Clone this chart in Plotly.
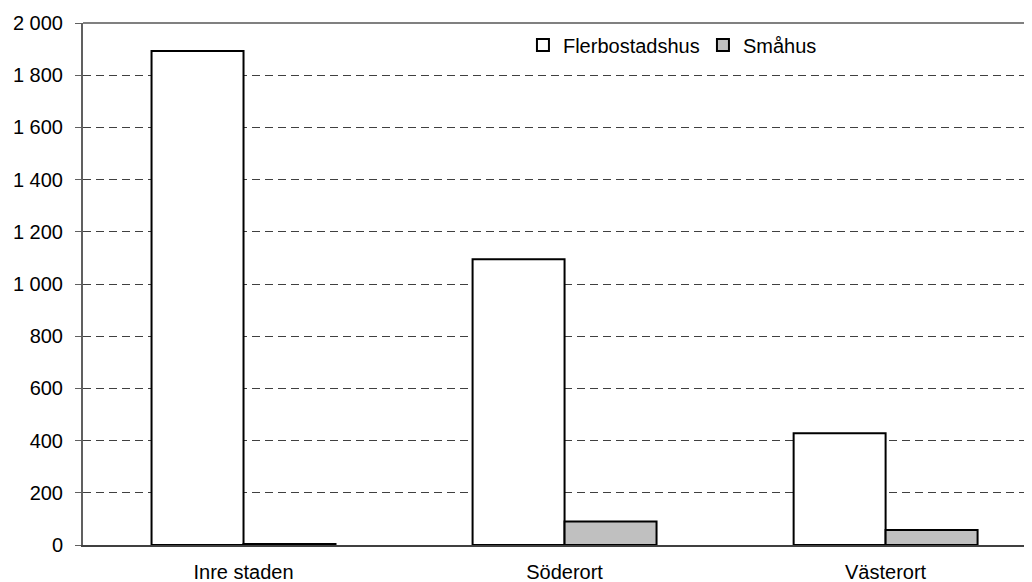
import plotly.graph_objects as go

categories = ["Inre staden", "Söderort", "Västerort"]
flerbostadshus = [1893, 1095, 428]
smahus = [4, 90, 57]
y_ticks = [0, 200, 400, 600, 800, 1000, 1200, 1400, 1600, 1800, 2000]

FONT = "Liberation Sans, Arial, sans-serif"

fig = go.Figure()
fig.add_trace(go.Bar(
    x=categories, y=flerbostadshus, name="Flerbostadshus",
    marker=dict(color="white", line=dict(color="black", width=2)),
))
fig.add_trace(go.Bar(
    x=categories, y=smahus, name="Småhus",
    marker=dict(color="#C0C0C0", line=dict(color="black", width=2)),
))

fig.update_layout(
    width=1024, height=574,
    margin=dict(l=75, r=0, t=15, b=37, autoexpand=False),
    paper_bgcolor="white", plot_bgcolor="white",
    barmode="group", bargap=0.427, bargroupgap=0,
    separators=", ",
    font=dict(family=FONT, size=20, color="black"),
    legend=dict(
        orientation="h", x=0.4636, y=0.995, xanchor="left", yanchor="top",
        font=dict(family=FONT, size=20), bgcolor="rgba(0,0,0,0)",
        itemwidth=30, entrywidth=135,
    ),
    xaxis=dict(
        range=[-0.5, 2.456], showline=True, linecolor="#404040", linewidth=2,
        showgrid=False, ticks="", tickfont=dict(size=20),
        ticklabelstandoff=8, automargin=False,
    ),
    yaxis=dict(
        range=[0, 2000], tickvals=y_ticks, tickformat=",d",
        showline=True, linecolor="#606060", linewidth=2,
        ticks="outside", ticklen=6, tickcolor="#606060", tickwidth=1,
        showgrid=True, gridcolor="#404040", gridwidth=1, griddash="8px,5px",
        zeroline=False, tickfont=dict(size=20), ticklabelstandoff=8,
        automargin=False,
    ),
    shapes=[dict(type="line", xref="paper", yref="paper", x0=0, x1=1, y0=1, y1=1,
                 line=dict(color="#808080", width=2))],
)

fig.write_html("out.html")
